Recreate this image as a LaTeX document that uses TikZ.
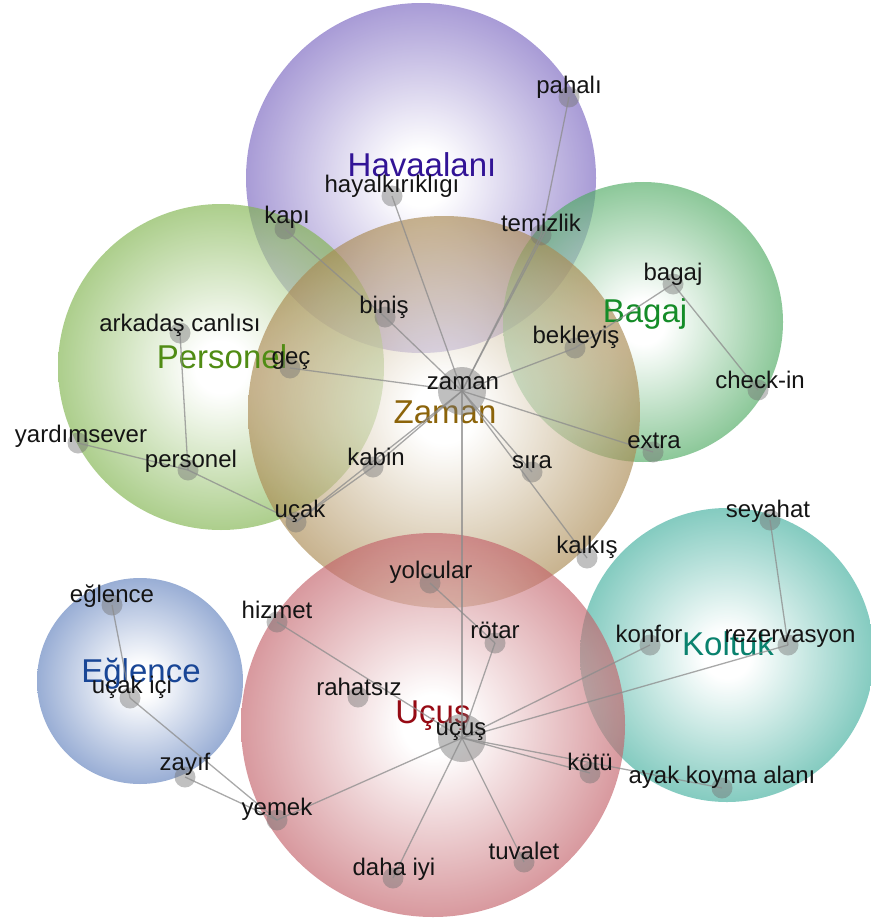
\documentclass[tikz,border=0pt]{standalone}
\usepackage{fontspec}
\setmainfont{Liberation Sans}
\definecolor{cHav}{RGB}{122,102,192}
\definecolor{cPer}{RGB}{128,180,78}
\definecolor{cZam}{RGB}{170,138,82}
\definecolor{cBag}{RGB}{78,170,98}
\definecolor{cKol}{RGB}{66,175,158}
\definecolor{cUcu}{RGB}{195,98,106}
\definecolor{cEgl}{RGB}{98,130,190}
\definecolor{tHav}{RGB}{50,20,150}
\definecolor{tPer}{RGB}{80,140,20}
\definecolor{tZam}{RGB}{140,100,10}
\definecolor{tBag}{RGB}{20,140,40}
\definecolor{tKol}{RGB}{10,130,110}
\definecolor{tUcu}{RGB}{150,10,20}
\definecolor{tEgl}{RGB}{25,70,150}
\pgfdeclareradialshading{shHav}{\pgfpoint{0bp}{0bp}}{color(0bp)=(white);color(4bp)=(white);color(25bp)=(cHav);color(50bp)=(cHav)}
\pgfdeclareradialshading{shPer}{\pgfpoint{0bp}{0bp}}{color(0bp)=(white);color(4bp)=(white);color(25bp)=(cPer);color(50bp)=(cPer)}
\pgfdeclareradialshading{shZam}{\pgfpoint{0bp}{0bp}}{color(0bp)=(white);color(4bp)=(white);color(25bp)=(cZam);color(50bp)=(cZam)}
\pgfdeclareradialshading{shBag}{\pgfpoint{0bp}{0bp}}{color(0bp)=(white);color(4bp)=(white);color(25bp)=(cBag);color(50bp)=(cBag)}
\pgfdeclareradialshading{shKol}{\pgfpoint{0bp}{0bp}}{color(0bp)=(white);color(4bp)=(white);color(25bp)=(cKol);color(50bp)=(cKol)}
\pgfdeclareradialshading{shUcu}{\pgfpoint{0bp}{0bp}}{color(0bp)=(white);color(4bp)=(white);color(25bp)=(cUcu);color(50bp)=(cUcu)}
\pgfdeclareradialshading{shEgl}{\pgfpoint{0bp}{0bp}}{color(0bp)=(white);color(4bp)=(white);color(25bp)=(cEgl);color(50bp)=(cEgl)}
\tikzset{
  dot/.style={circle, fill=black!55, fill opacity=0.45, draw=none, inner sep=0pt, minimum size=21pt},
  bigdot/.style={dot, minimum size=48pt},
  edge/.style={draw=black!45, line width=1.3pt, draw opacity=0.75},
  lbl/.style={anchor=base, inner sep=0pt, text=black!92, font=\fontsize{24}{24}\selectfont},
  cat/.style={anchor=base, inner sep=0pt, font=\fontsize{33}{33}\selectfont},
  bubble/.style={opacity=0.65}
}
\begin{document}
\begin{tikzpicture}[x=1pt,y=-1pt]
\useasboundingbox (0,0) rectangle (870,920);
% bubbles
\shade[bubble, shading=shHav] (421,178) circle[radius=175pt];
\shade[bubble, shading=shPer] (221,367) circle[radius=163pt];
\shade[bubble, shading=shBag] (643,322) circle[radius=140pt];
\shade[bubble, shading=shZam] (444,412) circle[radius=196pt];
\shade[bubble, shading=shKol] (727,655) circle[radius=147pt];
\shade[bubble, shading=shUcu] (433,725) circle[radius=192pt];
\shade[bubble, shading=shEgl] (140,681) circle[radius=103pt];
% category labels
\node[cat, text=tHav] (cHavaalani) at (422,177) {Havaalanı};
\node[cat, text=tPer] (cPersonel) at (222,368) {Personel};
\node[cat, text=tZam] (cZaman) at (445,423) {Zaman};
\node[cat, text=tBag] (cBagaj) at (645,322) {Bagaj};
\node[cat, text=tKol] (cKoltuk) at (728,655) {Koltuk};
\node[cat, text=tUcu] (cUcus) at (433,723) {Uçuş};
\node[cat, text=tEgl] (cEglence) at (141,682) {Eğlence};
% dots
\node[dot] (pahali) at (569,97) {};
\node[dot] (hayal) at (392,196) {};
\node[dot] (kapi) at (285,229) {};
\node[dot] (temizlik) at (541,235) {};
\node[dot] (binis) at (385,317) {};
\node[dot] (arkadas) at (180,333) {};
\node[dot] (gec) at (290,368) {};
\node[bigdot] (zaman) at (462,391) {};
\node[dot] (bagaj) at (673,284) {};
\node[dot] (bekleyis) at (575,348) {};
\node[dot] (checkin) at (758,390) {};
\node[dot] (extra) at (653,452) {};
\node[dot] (yardim) at (78,443) {};
\node[dot] (personel) at (188,470) {};
\node[dot] (kabin) at (373,467) {};
\node[dot] (sira) at (532,472) {};
\node[dot] (ucak) at (296,522) {};
\node[dot] (kalkis) at (587,558) {};
\node[dot] (yolcular) at (430,583) {};
\node[dot] (seyahat) at (770,520) {};
\node[dot] (eglence) at (112,605) {};
\node[dot] (hizmet) at (277,622) {};
\node[dot] (rotar) at (495,643) {};
\node[dot] (konfor) at (650,645) {};
\node[dot] (rezerv) at (788,645) {};
\node[dot] (ucakici) at (130,698) {};
\node[dot] (rahatsiz) at (358,697) {};
\node[bigdot] (ucus) at (462,738) {};
\node[dot] (kotu) at (590,773) {};
\node[dot] (ayak) at (722,788) {};
\node[dot] (zayif) at (185,777) {};
\node[dot] (yemek) at (277,820) {};
\node[dot] (dahaiyi) at (393,878) {};
\node[dot] (tuvalet) at (524,862) {};
% edges
\draw[edge] (pahali.center) -- (temizlik.center);
\draw[edge] (temizlik.center) -- (zaman.center);
\draw[edge] ([xshift=4pt,yshift=3pt]temizlik.center) -- (zaman.center);
\draw[edge] (hayal.center) -- (zaman.center);
\draw[edge] (kapi.center) -- (binis.center);
\draw[edge] (binis.center) -- (zaman.center);
\draw[edge] (gec.center) -- (zaman.center);
\draw[edge] (arkadas.center) -- (personel.center);
\draw[edge] (yardim.center) -- (personel.center);
\draw[edge] (personel.center) -- (ucak.center);
\draw[edge] (ucak.center) -- (kabin.center);
\draw[edge] (ucak.center) -- (zaman.center);
\draw[edge] (kabin.center) -- (zaman.center);
\draw[edge] (zaman.center) -- (bekleyis.center);
\draw[edge] (bekleyis.center) -- (bagaj.center);
\draw[edge] (bagaj.center) -- (checkin.center);
\draw[edge] (zaman.center) -- (extra.center);
\draw[edge] (zaman.center) -- (sira.center);
\draw[edge] (zaman.center) -- (kalkis.center);
\draw[edge] (zaman.center) -- (ucus.center);
\draw[edge] (yolcular.center) -- (rotar.center);
\draw[edge] (rotar.center) -- (ucus.center);
\draw[edge] (hizmet.center) -- (ucus.center);
\draw[edge] (ucus.center) -- (konfor.center);
\draw[edge] (ucus.center) -- (rezerv.center);
\draw[edge] (seyahat.center) -- (rezerv.center);
\draw[edge] (ucus.center) -- (kotu.center);
\draw[edge] (ucus.center) -- (ayak.center);
\draw[edge] (ucus.center) -- (yemek.center);
\draw[edge] (ucus.center) -- (dahaiyi.center);
\draw[edge] (ucus.center) -- (tuvalet.center);
\draw[edge] (yemek.center) -- (zayif.center);
\draw[edge] (yemek.center) -- (ucakici.center);
\draw[edge] (eglence.center) -- (ucakici.center);
% labels
\node[lbl] (l-pahali) at (569,94) {pahalı};
\node[lbl] (l-hayal) at (392,193) {hayalkırıklıgı};
\node[lbl] (l-kapi) at (287,223) {kapı};
\node[lbl] (l-temizlik) at (541,231) {temizlik};
\node[lbl] (l-binis) at (384,313) {biniş};
\node[lbl] (l-arkadas) at (180,331) {arkadaş canlısı};
\node[lbl] (l-gec) at (291,364) {geç};
\node[lbl] (l-zaman) at (463,389) {zaman};
\node[lbl] (l-bagaj) at (673,280) {bagaj};
\node[lbl] (l-bekleyis) at (576,343) {bekleyiş};
\node[lbl] (l-checkin) at (760,388) {check-in};
\node[lbl] (l-extra) at (654,448) {extra};
\node[lbl] (l-yardim) at (81,442) {yardımsever};
\node[lbl] (l-personel) at (191,467) {personel};
\node[lbl] (l-kabin) at (376,465) {kabin};
\node[lbl] (l-sira) at (532,468) {sıra};
\node[lbl] (l-ucak) at (300,517) {uçak};
\node[lbl] (l-kalkis) at (587,553) {kalkış};
\node[lbl] (l-yolcular) at (431,578) {yolcular};
\node[lbl] (l-seyahat) at (768,517) {seyahat};
\node[lbl] (l-eglence) at (112,602) {eğlence};
\node[lbl] (l-hizmet) at (277,618) {hizmet};
\node[lbl] (l-rotar) at (495,638) {rötar};
\node[lbl] (l-konfor) at (649,642) {konfor};
\node[lbl] (l-rezerv) at (790,642) {rezervasyon};
\node[lbl] (l-ucakici) at (132,693) {uçak içi};
\node[lbl] (l-rahatsiz) at (359,695) {rahatsız};
\node[lbl] (l-ucus) at (461,735) {uçuş};
\node[lbl] (l-kotu) at (590,770) {kötü};
\node[lbl] (l-ayak) at (722,783) {ayak koyma alanı};
\node[lbl] (l-zayif) at (185,770) {zayıf};
\node[lbl] (l-yemek) at (277,815) {yemek};
\node[lbl] (l-dahaiyi) at (394,875) {daha iyi};
\node[lbl] (l-tuvalet) at (524,859) {tuvalet};
\end{tikzpicture}
\end{document}
